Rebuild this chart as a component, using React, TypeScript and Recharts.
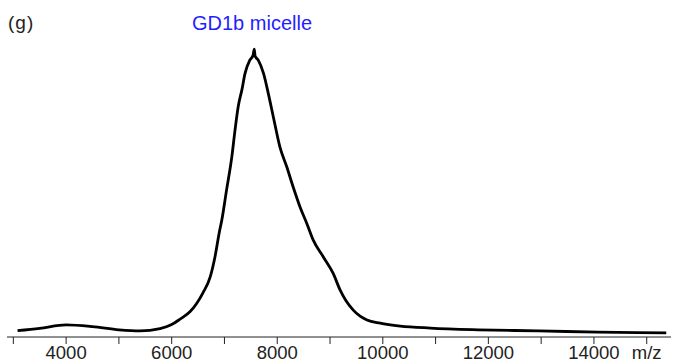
import { LineChart, Line, XAxis, YAxis } from 'recharts';

// m/z positions and relative intensity
const mz = [
  3080, 3500, 4000, 4500, 5000, 5400, 5780, 5990, 6160, 6350, 6590, 6730, 6820, 6900,
  6950, 7040, 7140, 7200, 7260, 7330, 7390, 7480, 7540, 7565, 7580, 7640, 7740, 7830,
  7930, 8050, 8180, 8300, 8430, 8560, 8680, 8870, 9060, 9190, 9300, 9440, 9570, 9700,
  9950, 10330, 10900, 11810, 12950, 14080, 15370,
];
const intensity = [
  2.2, 3.0, 4.2, 3.6, 2.5, 2.1, 2.9, 4.2, 6.2, 8.8, 15.2, 20.8, 27.7, 36,
  40.5, 50.9, 62.4, 71.6, 79.7, 85.5, 91.2, 95.8, 97.4, 99.6, 97.2, 95.8, 91.2, 84.3,
  75.8, 65.8, 58.9, 52, 45.1, 39.3, 33.6, 27.8, 22, 16.3, 12.6, 9.3, 7.2, 5.9,
  4.8, 3.8, 3.1, 2.5, 2.1, 1.7, 1.4,
];
const xTicks = [3000, 4000, 5000, 6000, 7000, 8000, 9000, 10000, 11000, 12000, 13000, 14000, 15000];

const data = mz.map((m, i) => ({ mz: m, y: intensity[i] }));

const FONT = '"Liberation Sans", Arial, sans-serif';

function tickLabel(v: number) {
  if (v === 15000) return 'm/z';
  return v % 2000 === 0 ? String(v) : '';
}

export default function App() {
  return (
    <div style={{ position: 'absolute', left: 0, top: 0, width: 676, height: 364, background: '#fff' }}>
      <LineChart width={676} height={364} data={data} margin={{ top: 48, right: 5, bottom: 0, left: 7 }}>
        <XAxis
          dataKey="mz"
          type="number"
          domain={[2880, 15460]}
          ticks={xTicks}
          tickFormatter={tickLabel}
          tickSize={7}
          tickMargin={2}
          height={27}
          interval={0}
          stroke="#222"
          tick={{ fill: '#222', fontSize: 18.5, fontFamily: FONT }}
          allowDataOverflow
        />
        <YAxis hide domain={[0, 100]} />
        <Line
          type="monotone"
          dataKey="y"
          stroke="#000"
          strokeWidth={2.8}
          dot={false}
          isAnimationActive={false}
        />
      </LineChart>
      <div style={{ position: 'absolute', left: 8, top: 12, fontFamily: FONT, fontSize: 19, letterSpacing: 1, color: '#222' }}>
        (g)
      </div>
      <div style={{ position: 'absolute', left: 192, top: 12, fontFamily: FONT, fontSize: 20, color: '#1f1fff' }}>
        GD1b micelle
      </div>
    </div>
  );
}
